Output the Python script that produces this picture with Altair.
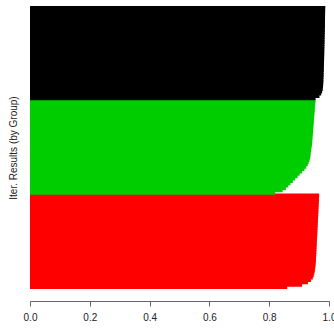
import altair as alt
import pandas as pd

groups = ["A", "B", "C"]
group_colors = ["#FF0000", "#00CD00", "#000000"]

# values listed bottom-to-top within each group
red_vals = [0.86, 0.91, 0.93, 0.94, 0.946, 0.949, 0.951, 0.9525, 0.9535, 0.9545,
            0.9555, 0.956, 0.9564, 0.9568, 0.9572, 0.9576, 0.958, 0.9584, 0.9588, 0.9592,
            0.9596, 0.96, 0.9604, 0.9608, 0.9612, 0.9616, 0.962, 0.9624, 0.9628, 0.9632,
            0.9636, 0.964, 0.9644, 0.9648, 0.9652, 0.9656, 0.966, 0.9664, 0.9667, 0.967]
green_vals = [0.82, 0.845, 0.856, 0.864, 0.871, 0.879, 0.887, 0.895, 0.902, 0.91,
              0.918, 0.924, 0.929, 0.932, 0.935, 0.937, 0.938, 0.939, 0.94, 0.941,
              0.9426, 0.9433, 0.944, 0.9446, 0.9452, 0.9458, 0.9465, 0.947, 0.9477, 0.9483,
              0.949, 0.9496, 0.9502, 0.9508, 0.9515, 0.952, 0.9527, 0.9534, 0.954, 0.955]
black_vals = [0.955, 0.968, 0.974, 0.977, 0.979, 0.98, 0.9805, 0.981, 0.9813, 0.9816,
              0.982, 0.9822, 0.9825, 0.9827, 0.983, 0.9832, 0.9834, 0.9836, 0.9838, 0.984,
              0.9842, 0.9844, 0.9846, 0.9848, 0.985, 0.9852, 0.9854, 0.9856, 0.9858, 0.986,
              0.9862, 0.9864, 0.9865, 0.9866, 0.9867, 0.9868, 0.9869, 0.987, 0.9872, 0.9875]

x_ticks = [0.0, 0.2, 0.4, 0.6, 0.8, 1.0]

rows = []
idx = 0
total = len(red_vals) + len(green_vals) + len(black_vals)
for g, vals in zip(groups, [red_vals, green_vals, black_vals]):
    for v in vals:
        # slight overlap upward hides anti-aliasing seams; later bars cover it
        top = idx + 1 if idx == total - 1 else idx + 1.5
        rows.append({"group": g, "value": v, "i": idx, "i2": top, "order": idx})
        idx += 1
df = pd.DataFrame(rows)
n = idx

color_scale = alt.Scale(domain=groups, range=group_colors)

chart = alt.Chart(df).mark_rect(strokeWidth=0).encode(
    x=alt.X("value:Q", scale=alt.Scale(domain=[0, 1], nice=False, zero=True),
            axis=alt.Axis(values=x_ticks, format=".1f", title=None, grid=False,
                          labelFlush=False, offset=12, tickSize=5, labelPadding=6,
                          domainColor="#666", tickColor="#666", labelColor="#222",
                          labelFontSize=10, labelFont="Liberation Sans")),
    x2=alt.datum(0),
    y=alt.Y("i:Q", scale=alt.Scale(domain=[0, n], nice=False, zero=False),
            axis=alt.Axis(title="Iter. Results (by Group)", labels=False, ticks=False,
                          domain=False, grid=False, titleX=-17, titleY=141.5,
                          titleAngle=270, titleAlign="center", titleBaseline="middle",
                          titleFontSize=10, titleFontWeight="normal",
                          titleFont="Liberation Sans", titleColor="#222")),
    y2="i2:Q",
    color=alt.Color("group:N", scale=color_scale, legend=None),
    order=alt.Order("order:Q"),
).properties(
    width=299, height=283,
    autosize=alt.AutoSizeParams(type="none"),
    padding={"left": 30, "top": 6, "right": 5, "bottom": 40},
).configure_view(stroke=None)

chart.save("out.html", embed_options={"renderer": "svg", "actions": False})
